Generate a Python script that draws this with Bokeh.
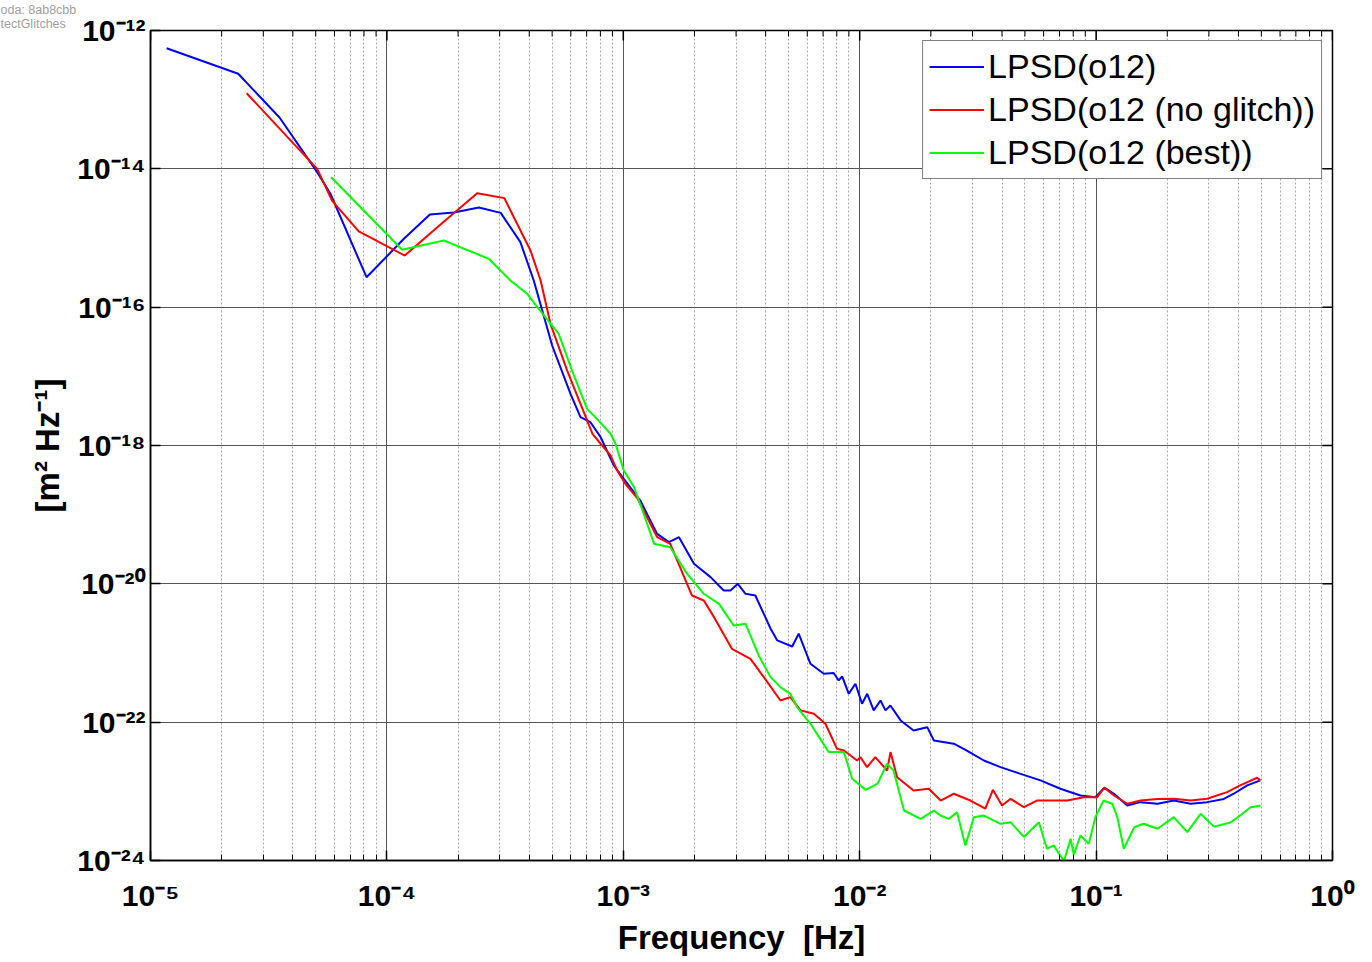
import math
from bokeh.plotting import figure
from bokeh.models import Range1d, FixedTicker, Legend, LegendItem
from bokeh.embed import file_html
from bokeh.resources import INLINE

# ---------------- data ----------------
blue_f = [1.17e-5, 2.35e-5, 3.52e-5, 5.07e-5, 5.77e-5, 8.20e-5, 1.18e-4, 1.52e-4, 1.92e-4,
          2.45e-4, 3.03e-4, 3.67e-4, 4.18e-4, 5.00e-4, 5.98e-4, 6.59e-4, 7.26e-4, 8.02e-4,
          9.12e-4, 1.005e-3, 1.18e-3, 1.39e-3, 1.56e-3, 1.72e-3, 1.99e-3, 2.34e-3, 2.66e-3,
          2.84e-3, 3.05e-3, 3.29e-3, 3.62e-3, 4.20e-3, 4.48e-3, 5.18e-3, 5.52e-3, 6.19e-3,
          7.05e-3, 7.76e-3, 8.15e-3, 8.43e-3, 8.99e-3, 9.59e-3, 1.023e-2, 1.076e-2, 1.146e-2,
          1.225e-2, 1.285e-2, 1.349e-2, 1.49e-2, 1.69e-2, 1.93e-2, 2.06e-2, 2.50e-2, 2.84e-2,
          3.35e-2, 3.94e-2, 4.79e-2, 5.82e-2, 7.06e-2, 8.59e-2, 9.93e-2, 1.084e-1, 1.19e-1,
          1.355e-1, 1.54e-1, 1.82e-1, 2.13e-1, 2.51e-1, 2.95e-1, 3.47e-1, 3.82e-1, 4.36e-1,
          4.95e-1]
blue_psd = [5.55e-13, 2.37e-13, 5.47e-14, 8.95e-15, 4.36e-15, 2.71e-16, 9.73e-16, 2.19e-15, 2.34e-15,
            2.76e-15, 2.31e-15, 8.71e-16, 2.43e-16, 2.79e-17, 5.58e-18, 2.57e-18, 2.17e-18, 1.32e-18,
            5.14e-19, 3.30e-19, 1.60e-19, 5.28e-20, 4.00e-20, 4.73e-20, 1.95e-20, 1.25e-20, 8.02e-21,
            8.02e-21, 1.00e-20, 7.18e-21, 6.79e-21, 2.24e-21, 1.52e-21, 1.24e-21, 1.90e-21, 6.98e-22,
            5.01e-22, 5.13e-22, 4.01e-22, 4.58e-22, 2.57e-22, 3.59e-22, 1.85e-22, 2.57e-22, 1.48e-22,
            2.06e-22, 1.48e-22, 1.74e-22, 1.06e-22, 7.59e-23, 8.47e-23, 5.43e-23, 4.88e-23, 3.89e-23,
            2.79e-23, 2.24e-23, 1.79e-23, 1.44e-23, 1.09e-23, 8.71e-24, 8.24e-24, 1.13e-23, 9.23e-24,
            6.24e-24, 6.98e-24, 6.61e-24, 7.36e-24, 6.61e-24, 6.98e-24, 7.76e-24, 9.23e-24, 1.22e-23,
            1.44e-23]

red_f = [2.55e-5, 5.07e-5, 5.86e-5, 7.60e-5, 1.19e-4, 1.71e-4, 2.41e-4, 3.14e-4, 4.05e-4,
         4.47e-4, 4.92e-4, 5.79e-4, 6.59e-4, 7.40e-4, 8.02e-4, 8.83e-4, 9.42e-4, 1.02e-3,
         1.15e-3, 1.39e-3, 1.58e-3, 1.95e-3, 2.19e-3, 2.42e-3, 2.88e-3, 3.45e-3, 3.93e-3,
         4.62e-3, 5.09e-3, 5.62e-3, 6.40e-3, 7.16e-3, 8.02e-3, 8.57e-3, 9.75e-3, 1.007e-2,
         1.074e-2, 1.164e-2, 1.306e-2, 1.35e-2, 1.44e-2, 1.69e-2, 1.96e-2, 2.20e-2, 2.50e-2,
         2.94e-2, 3.40e-2, 3.66e-2, 4.00e-2, 4.35e-2, 4.95e-2, 5.62e-2, 7.55e-2, 8.87e-2,
         1.01e-1, 1.084e-1, 1.19e-1, 1.355e-1, 1.54e-1, 1.82e-1, 2.13e-1, 2.51e-1, 2.95e-1,
         3.58e-1, 4.07e-1, 4.80e-1, 4.95e-1]
red_psd = [1.24e-13, 1.00e-14, 3.48e-15, 1.25e-15, 5.58e-16, 1.64e-15, 4.45e-15, 3.77e-15, 6.59e-16,
           2.43e-16, 5.75e-17, 1.21e-17, 4.01e-18, 1.48e-18, 1.06e-18, 7.18e-19, 4.36e-19, 2.79e-19,
           1.70e-19, 4.73e-20, 3.79e-20, 6.79e-21, 5.75e-21, 3.30e-21, 1.15e-21, 8.24e-22, 4.47e-22,
           2.06e-22, 2.30e-22, 1.48e-22, 1.32e-22, 9.48e-23, 4.12e-23, 3.90e-23, 2.79e-23, 3.12e-23,
           2.24e-23, 3.12e-23, 2.00e-23, 3.69e-23, 1.60e-23, 1.03e-23, 1.09e-23, 7.36e-24, 9.23e-24,
           7.36e-24, 5.62e-24, 1.05e-23, 6.24e-24, 7.80e-24, 5.89e-24, 7.36e-24, 7.36e-24, 8.24e-24,
           8.24e-24, 1.13e-23, 8.71e-24, 6.61e-24, 7.36e-24, 7.76e-24, 7.80e-24, 7.36e-24, 7.80e-24,
           9.73e-24, 1.22e-23, 1.57e-23, 1.44e-23]

green_f = [5.81e-5, 1.16e-4, 1.74e-4, 2.70e-4, 3.33e-4, 3.92e-4, 4.33e-4, 5.33e-4, 6.07e-4,
           7.03e-4, 7.74e-4, 8.83e-4, 9.27e-4, 1.005e-3, 1.11e-3, 1.22e-3, 1.35e-3, 1.58e-3,
           1.86e-3, 2.19e-3, 2.54e-3, 2.93e-3, 3.29e-3, 3.74e-3, 4.20e-3, 4.62e-3, 5.09e-3,
           5.43e-3, 6.19e-3, 7.40e-3, 8.57e-3, 9.29e-3, 1.06e-2, 1.19e-2, 1.306e-2, 1.39e-2,
           1.54e-2, 1.81e-2, 2.06e-2, 2.20e-2, 2.38e-2, 2.58e-2, 2.80e-2, 3.04e-2, 3.35e-2,
           3.94e-2, 4.35e-2, 4.95e-2, 5.73e-2, 6.19e-2, 6.62e-2, 7.31e-2, 7.80e-2, 8.05e-2,
           8.59e-2, 9.31e-2, 9.93e-2, 1.076e-1, 1.17e-1, 1.23e-1, 1.31e-1, 1.45e-1, 1.59e-1,
           1.82e-1, 2.13e-1, 2.43e-1, 2.77e-1, 3.15e-1, 3.70e-1, 4.07e-1, 4.50e-1, 4.95e-1]
green_psd = [7.57e-15, 6.76e-16, 9.20e-16, 5.00e-16, 2.43e-16, 1.56e-16, 1.00e-16, 4.12e-17, 1.21e-17,
             3.39e-18, 2.43e-18, 1.48e-18, 1.06e-18, 4.36e-19, 2.50e-19, 1.03e-19, 3.79e-20, 3.39e-20,
             1.40e-20, 7.18e-21, 5.14e-21, 2.50e-21, 2.64e-21, 9.23e-22, 4.48e-22, 3.21e-22, 2.57e-22,
             1.65e-22, 9.48e-23, 3.69e-23, 3.69e-23, 1.52e-23, 1.05e-23, 1.29e-23, 2.51e-23, 2.00e-23,
             5.28e-24, 4.00e-24, 5.27e-24, 4.47e-24, 4.00e-24, 5.00e-24, 1.65e-24, 4.23e-24, 4.47e-24,
             3.39e-24, 3.58e-24, 2.19e-24, 3.58e-24, 1.48e-24, 1.65e-24, 9.77e-25, 2.06e-24, 1.22e-24,
             2.30e-24, 1.74e-24, 4.23e-24, 7.36e-24, 6.61e-24, 4.23e-24, 1.48e-24, 3.03e-24, 3.40e-24,
             2.88e-24, 4.23e-24, 2.57e-24, 4.73e-24, 3.09e-24, 3.55e-24, 4.47e-24, 5.89e-24, 6.17e-24]

series_labels = ["LPSD(o12)", "LPSD(o12 (no glitch))", "LPSD(o12 (best))"]
series_colors = ["#0000ff", "#ff0000", "#00ff00"]

x_limits = [1e-5, 1e0]
y_limits = [1e-24, 1e-12]
x_tick_exponents = ["-5", "-4", "-3", "-2", "-1", "0"]
y_tick_exponents = ["-24", "-22", "-20", "-18", "-16", "-14", "-12"]
x_label = "Frequency \u00a0[Hz]"
y_label = "[m\u00b2 Hz\u207b\u00b9]"
corner_texts = ["oda: 8ab8cbb", "tectGlitches"]

# ---------------- helpers ----------------
SUP = {"-": "\u207b", "0": "\u2070", "1": "\u00b9", "2": "\u00b2", "3": "\u00b3",
       "4": "\u2074", "5": "\u2075", "6": "\u2076", "7": "\u2077", "8": "\u2078", "9": "\u2079"}
def power_label(e):
    return "10" + "".join(SUP[c] for c in e)

FONT = "Liberation Sans"

# ---------------- figure ----------------
p = figure(width=1372, height=962, x_axis_type="log", y_axis_type="log",
           x_range=Range1d(*x_limits), y_range=Range1d(*y_limits),
           output_backend="svg", toolbar_location=None,
           min_border_left=150, min_border_right=40, min_border_top=30, min_border_bottom=102)
p.background_fill_color = "white"
p.border_fill_color = "white"
p.outline_line_color = "black"
p.outline_line_width = 1.5

# corner info text (gray, top-left)
p.title.text = "\n".join(corner_texts)
p.title.align = "left"
p.title.offset = -150
p.title.standoff = 0
p.title.text_font = FONT
p.title.text_font_style = "normal"
p.title.text_font_size = "12.5px"
p.title.text_line_height = 1.0
p.title.text_color = "#a0a0a0"

x_major = [10.0 ** int(e) for e in x_tick_exponents]
x_minor = [m * d for d in x_major[:-1] for m in range(2, 10)]
y_major = [10.0 ** int(e) for e in y_tick_exponents]

xt = FixedTicker(ticks=x_major, minor_ticks=x_minor)
yt = FixedTicker(ticks=y_major, minor_ticks=[])
p.xaxis.ticker = xt
p.yaxis.ticker = yt
p.xaxis.major_label_overrides = {v: power_label(e) for v, e in zip(x_major, x_tick_exponents)}
p.yaxis.major_label_overrides = {v: power_label(e) for v, e in zip(y_major, y_tick_exponents)}

for ax in list(p.xaxis) + list(p.yaxis):
    ax.axis_line_color = "black"
    ax.axis_line_width = 1.5
    ax.major_tick_in = 10
    ax.major_tick_out = 0
    ax.minor_tick_in = 6
    ax.minor_tick_out = 0
    ax.major_tick_line_color = "black"
    ax.minor_tick_line_color = "black"
    ax.major_tick_line_width = 1.5
    ax.minor_tick_line_width = 1
    ax.major_label_text_font = FONT
    ax.major_label_text_font_style = "bold"
    ax.major_label_text_font_size = "30px"
    ax.major_label_text_color = "black"
    ax.axis_label_text_font = FONT
    ax.axis_label_text_font_style = "bold"
    ax.axis_label_text_font_size = "33px"
    ax.axis_label_text_color = "black"

p.xaxis.major_label_standoff = 18
p.yaxis.major_label_standoff = 5
p.xaxis.axis_label = x_label
p.yaxis.axis_label = y_label
p.xaxis.axis_label_standoff = 4
p.yaxis.axis_label_standoff = 8

p.xgrid.grid_line_color = "#555555"
p.xgrid.grid_line_width = 1
p.xgrid.minor_grid_line_color = "#a8a8a8"
p.xgrid.minor_grid_line_dash = "2 2"
p.xgrid.minor_grid_line_width = 1
p.ygrid.grid_line_color = "#555555"
p.ygrid.grid_line_width = 1

# inward tick marks on the top and right edges of the box
p.ray(x=x_major, y=[y_limits[1]] * len(x_major), length=10, length_units="screen",
      angle=-math.pi / 2, line_color="black", line_width=1.5)
p.ray(x=x_minor, y=[y_limits[1]] * len(x_minor), length=6, length_units="screen",
      angle=-math.pi / 2, line_color="black", line_width=1)
p.ray(x=[x_limits[1]] * len(y_major), y=y_major, length=10, length_units="screen",
      angle=math.pi, line_color="black", line_width=1.5)

# ---------------- data lines ----------------
all_series = [(blue_f, blue_psd), (red_f, red_psd), (green_f, green_psd)]
legend_items = []
for (fx, py), col, lab in zip(all_series, series_colors, series_labels):
    r = p.line(fx, py, line_color=col, line_width=2)
    legend_items.append(LegendItem(label=lab, renderers=[r]))

legend = Legend(items=legend_items, location="top_right", margin=10,
                label_text_font=FONT, label_text_font_size="34px",
                label_text_color="black",
                glyph_width=55, glyph_height=39, label_height=39,
                label_standoff=4, spacing=4, padding=6,
                border_line_color="black", border_line_width=1.5,
                background_fill_color="white", background_fill_alpha=1.0)
p.add_layout(legend)

open("out.html", "w").write(file_html(p, INLINE))
